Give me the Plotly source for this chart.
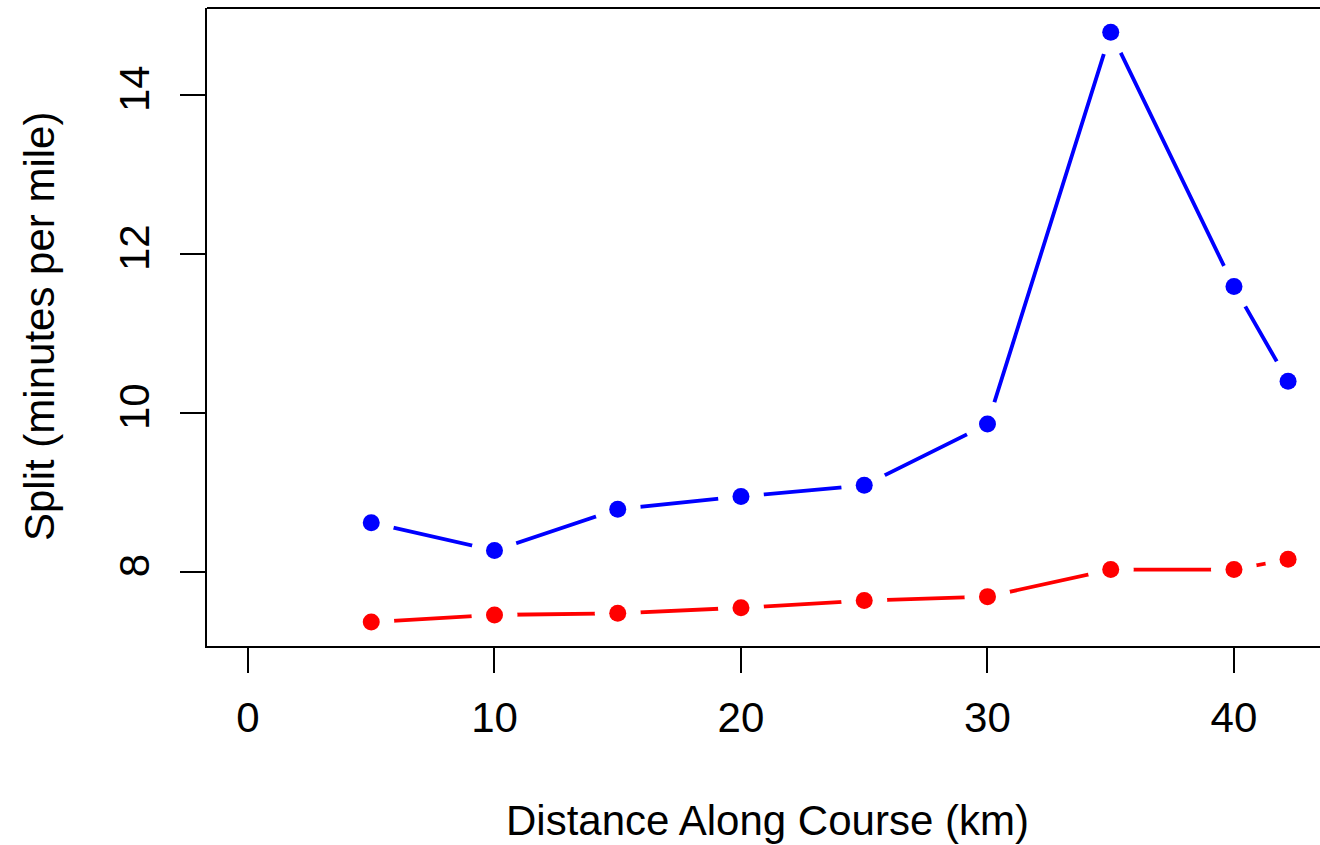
import plotly.graph_objects as go

distance_km = [5, 10, 15, 20, 25, 30, 35, 40, 42.195]
split_blue = [8.62, 8.27, 8.79, 8.95, 9.09, 9.86, 14.79, 11.59, 10.40]
split_red = [7.37, 7.46, 7.48, 7.55, 7.64, 7.69, 8.03, 8.03, 8.16]
x_ticks = [0, 10, 20, 30, 40]
y_ticks = [8, 10, 12, 14]
x_title = "Distance Along Course (km)"
y_title = "Split (minutes per mile)"

FONT = "Liberation Sans, Arial, Helvetica, sans-serif"
W, H = 1320, 845
L, R, T, B = 207, 0, 8, 199

fig = go.Figure()
series = [(split_blue, "#0000FF"), (split_red, "#FF0000")]
for ys, col in series:
    fig.add_trace(go.Scatter(x=distance_km, y=ys, mode="lines",
                             line=dict(color=col, width=3.8), hoverinfo="skip"))
for ys, col in series:
    fig.add_trace(go.Scatter(x=distance_km, y=ys, mode="markers",
                             marker=dict(color="white", size=46, line=dict(width=0)),
                             hoverinfo="skip"))
for ys, col in series:
    fig.add_trace(go.Scatter(x=distance_km, y=ys, mode="markers",
                             marker=dict(color=col, size=17, line=dict(width=0))))

axis_common = dict(showgrid=False, zeroline=False, showline=True, linecolor="black",
                   linewidth=1.8, ticks="outside", ticklen=25, tickwidth=1.8,
                   tickcolor="black", tickfont=dict(family=FONT, size=42, color="black"))

fig.update_layout(
    width=W, height=H, margin=dict(l=L, r=R, t=T, b=B, pad=0),
    paper_bgcolor="white", plot_bgcolor="white", showlegend=False,
    xaxis=dict(range=[-1.663, 43.49], tickvals=x_ticks, ticktext=[str(v) for v in x_ticks],
               ticklabelstandoff=9, **axis_common),
    yaxis=dict(range=[7.069, 15.094], tickvals=y_ticks, ticktext=[str(v) for v in y_ticks],
               tickangle=-90, ticklabelstandoff=14, **axis_common),
    shapes=[dict(type="line", xref="paper", yref="paper", x0=0, x1=1, y0=1, y1=1,
                 line=dict(color="black", width=1.8))],
    annotations=[
        dict(text=x_title, xref="paper", yref="paper", x=0.504, y=0, yshift=-(820 - 646),
             xanchor="center", yanchor="middle", showarrow=False,
             font=dict(family=FONT, size=42, color="black")),
        dict(text=y_title, xref="paper", yref="paper", x=0, y=0.5, xshift=-(207 - 39),
             xanchor="center", yanchor="middle", textangle=-90, showarrow=False,
             font=dict(family=FONT, size=42, color="black")),
    ],
)

fig.write_html("out.html")
